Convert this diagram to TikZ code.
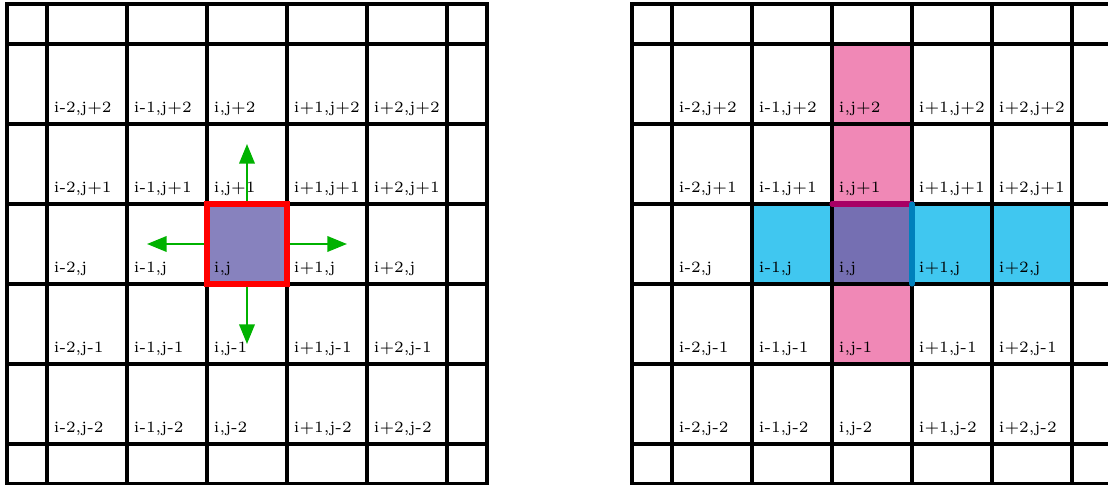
\documentclass[tikz,border=0pt]{standalone}
\usetikzlibrary{arrows.meta}
\definecolor{cellPurple}{RGB}{135,130,190}
\definecolor{cellDark}{RGB}{117,111,178}
\definecolor{cellPink}{RGB}{240,136,182}
\definecolor{cellCyan}{RGB}{64,199,240}
\definecolor{edgeMagenta}{RGB}{168,0,100}
\definecolor{edgeTeal}{RGB}{0,128,188}
\definecolor{fluxGreen}{RGB}{0,178,0}

\begin{document}
\begin{tikzpicture}[
    gridline/.style={line width=1.6pt},
    cellLabel/.style={anchor=base west, inner sep=0pt, font=\fontsize{5.6}{6.5}\selectfont},
    flux/.style={fluxGreen, line width=0.8pt, -{Triangle[length=7pt,width=5.5pt]}}
  ]
  \useasboundingbox (-0.5875,-0.5125) rectangle (13.2625,5.55);

  % Malla izquierda (celda central y flujos)
  \draw[gridline] (-0.5,-0.5) grid (5.5,5.5);
  \draw[gridline] (-0.5,-0.5) rectangle (5.5,5.5);
  \node[draw=red, line width=2.2pt, fill=cellPurple, minimum size=1cm, inner sep=0pt] (ij) at (2.5,2.5) {};
  % etiquetas de las celdas
  \foreach \c/\ci in {0/i-2,1/i-1,2/i,3/i+1,4/i+2}
    \foreach \r/\rj in {0/j-2,1/j-1,2/j,3/j+1,4/j+2}
      \node[cellLabel] (L\c\r) at (\c+0.08,\r+0.14) {\ci,\rj};
  % flujos a traves de las caras
  \coordinate (fluxN) at (2.5,3.75);
  \coordinate (fluxS) at (2.5,1.25);
  \coordinate (fluxE) at (3.75,2.5);
  \coordinate (fluxW) at (1.25,2.5);
  \draw[flux] (ij.north) -- (fluxN);
  \draw[flux] (ij.south) -- (fluxS);
  \draw[flux] (ij.east) -- (fluxE);
  \draw[flux] (ij.west) -- (fluxW);

  % Malla derecha (estencil)
  \begin{scope}[xshift=7.8125cm]
    \fill[cellPink] (2,1) rectangle (3,5);
    \fill[cellCyan] (1,2) rectangle (5,3);
    \fill[cellDark] (2,2) rectangle (3,3);
    \draw[gridline] (-0.5,-0.5) grid (5.5,5.5);
    \draw[gridline] (-0.5,-0.5) rectangle (5.5,5.5);
    % caras compartidas
    \draw[edgeMagenta, line width=1.8pt, line cap=round] (2,3) -- (3,3);
    \draw[edgeTeal, line width=1.8pt, line cap=round] (3,2) -- (3,3);
    % etiquetas de las celdas
    \foreach \c/\ci in {0/i-2,1/i-1,2/i,3/i+1,4/i+2}
      \foreach \r/\rj in {0/j-2,1/j-1,2/j,3/j+1,4/j+2}
        \node[cellLabel] (R\c\r) at (\c+0.08,\r+0.14) {\ci,\rj};
  \end{scope}
\end{tikzpicture}
\end{document}
